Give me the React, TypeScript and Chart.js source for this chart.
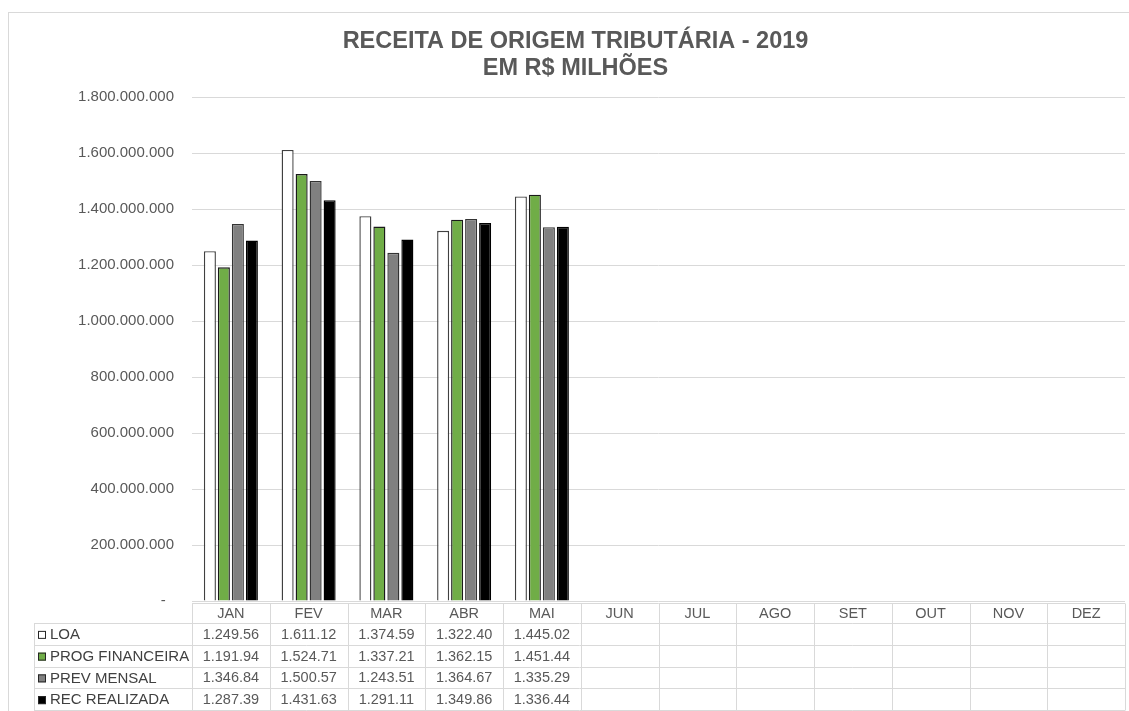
import React, { useEffect, useRef } from "react";
import { Chart, registerables } from "chart.js";

Chart.register(...registerables);

const months = ["JAN", "FEV", "MAR", "ABR", "MAI", "JUN", "JUL", "AGO", "SET", "OUT", "NOV", "DEZ"];
const loa = [1249.56, 1611.12, 1374.59, 1322.4, 1445.02];
const progFinanceira = [1191.94, 1524.71, 1337.21, 1362.15, 1451.44];
const prevMensal = [1346.84, 1500.57, 1243.51, 1364.67, 1335.29];
const recRealizada = [1287.39, 1431.63, 1291.11, 1349.86, 1336.44];
const seriesNames = ["LOA", "PROG FINANCEIRA", "PREV MENSAL", "REC REALIZADA"];
const titleLines = ["RECEITA DE ORIGEM TRIBUTÁRIA - 2019", "EM R$ MILHÕES"];
const yMax = 1800;
const yStep = 200;

const FONT = "'Liberation Sans', Arial, sans-serif";
const TEXT = "#595959";
const GRID = "#d9d9d9";
const fills = ["#ffffff", "#70ad47", "#808080", "#000000"];
const borders = ["#404040", "#1a1a1a", "#333333", "#000000"];

function fmtThousands(n: number): string {
  return String(Math.round(n)).replace(/\B(?=(\d{3})+(?!\d))/g, ".");
}
function fmtTable(v: number | undefined): string {
  if (v === undefined) return "";
  const ip = Math.floor(v);
  const dec = Math.round((v - ip) * 100);
  return fmtThousands(ip) + "." + String(dec).padStart(2, "0");
}

const frameAndTable = {
  id: "frameAndTable",
  beforeDraw(chart: any) {
    const ctx = chart.ctx;
    ctx.save();
    ctx.strokeStyle = GRID;
    ctx.lineWidth = 1;
    ctx.strokeRect(8.5, 12.5, 1400, 1000);
    ctx.restore();
  },
  afterDraw(chart: any) {
    const ctx = chart.ctx;
    const area = chart.chartArea;
    const xs = chart.scales.x;
    const colW = area.width / months.length;
    const top = area.bottom + 2;
    const headH = 20;
    const rowH = 21.75;
    const labelLeft = 34;
    const series = [loa, progFinanceira, prevMensal, recRealizada];
    ctx.save();
    ctx.strokeStyle = GRID;
    ctx.lineWidth = 1;
    const px = (v: number) => Math.round(v) + 0.5;
    ctx.beginPath();
    ctx.moveTo(area.left, px(top));
    ctx.lineTo(area.right, px(top));
    for (let r = 0; r <= series.length; r++) {
      const y = px(top + headH + r * rowH);
      ctx.moveTo(labelLeft, y);
      ctx.lineTo(area.right, y);
    }
    const bottom = top + headH + series.length * rowH;
    ctx.moveTo(px(labelLeft), px(top + headH));
    ctx.lineTo(px(labelLeft), px(bottom));
    for (let i = 0; i <= months.length; i++) {
      const xx = i === months.length
        ? px(xs.getPixelForValue(i - 1) + colW / 2)
        : px(xs.getPixelForValue(i) - colW / 2);
      ctx.moveTo(xx, px(top));
      ctx.lineTo(xx, px(bottom));
    }
    ctx.stroke();

    ctx.font = "14.5px " + FONT;
    ctx.fillStyle = TEXT;
    ctx.textAlign = "center";
    ctx.textBaseline = "middle";
    months.forEach((m, i) => {
      ctx.fillText(m, xs.getPixelForValue(i), top + headH / 2 + 1);
    });
    series.forEach((s, r) => {
      const cy = top + headH + r * rowH + rowH / 2 + 1;
      ctx.font = "14.5px " + FONT;
      ctx.textAlign = "center";
      ctx.fillStyle = TEXT;
      months.forEach((_, i) => {
        const t = fmtTable(s[i]);
        if (t) ctx.fillText(t, xs.getPixelForValue(i), cy);
      });
      ctx.fillStyle = fills[r];
      ctx.fillRect(38, cy - 4, 8, 8);
      ctx.strokeStyle = "#262626";
      ctx.strokeRect(38.5, cy - 3.5, 7, 7);
      ctx.font = "15px " + FONT;
      ctx.fillStyle = "#404040";
      ctx.textAlign = "left";
      ctx.fillText(seriesNames[r], 50, cy);
    });
    ctx.restore();
  },
};

export default function App() {
  const ref = useRef<HTMLCanvasElement>(null);
  useEffect(() => {
    if (!ref.current) return;
    const datasets = [loa, progFinanceira, prevMensal, recRealizada].map((d, i) => ({
      label: seriesNames[i],
      data: d,
      backgroundColor: fills[i],
      borderColor: borders[i],
      borderWidth: 1.4,
      categoryPercentage: 0.72,
      barPercentage: 0.86,
    }));
    const chart = new Chart(ref.current, {
      type: "bar",
      data: { labels: months, datasets },
      plugins: [frameAndTable],
      options: {
        animation: false,
        responsive: false,
        devicePixelRatio: 1,
        layout: { padding: { left: 26, right: 4, top: 0, bottom: 110 } },
        plugins: {
          legend: { display: false },
          tooltip: { enabled: false },
          title: {
            display: true,
            text: titleLines,
            color: TEXT,
            font: { family: FONT, size: 23.5, weight: "bold", lineHeight: 1.15 },
            padding: { top: 28, bottom: 15 },
          },
        },
        scales: {
          x: {
            display: false,
            offset: true,
            grid: { display: false },
          },
          y: {
            min: 0,
            max: yMax,
            border: { display: false },
            grid: { color: GRID, drawTicks: false, lineWidth: 1 },
            afterFit: (s: any) => {
              s.width = 166;
            },
            ticks: {
              stepSize: yStep,
              padding: 18,
              color: TEXT,
              font: { family: FONT, size: 15 },
              callback: (v: any) => (Number(v) === 0 ? "-  " : fmtThousands(Number(v) * 1000000)),
            },
          },
        },
      },
    });
    return () => chart.destroy();
  }, []);
  return (
    <div style={{ position: "fixed", left: 0, top: 0, width: 1129, height: 711, background: "#fff" }}>
      <canvas ref={ref} width={1129} height={711} style={{ display: "block" }} />
    </div>
  );
}
